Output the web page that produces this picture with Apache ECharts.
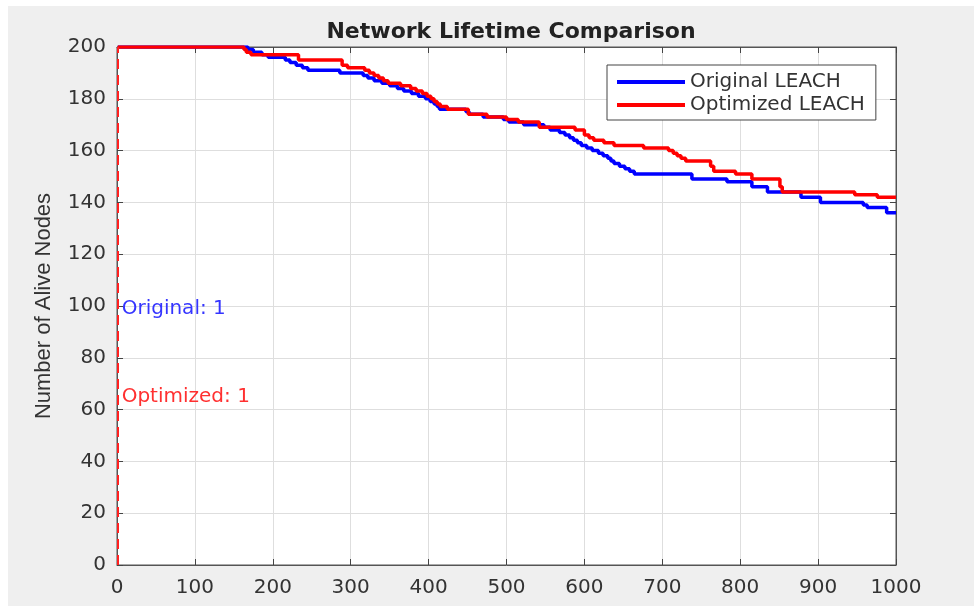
<!DOCTYPE html>
<html>
<head>
<meta charset="utf-8">
<script src="https://cdn.jsdelivr.net/npm/echarts@6/dist/echarts.min.js"></script>
<style>
html,body{margin:0;padding:0;background:#fff;}
#chart{width:974px;height:606px;}
</style>
</head>
<body>
<div id="chart"></div>
<script>
// ---- data ----
var xTicks = [0,100,200,300,400,500,600,700,800,900,1000];
var yTicks = [0,20,40,60,80,100,120,140,160,180,200];

var origRounds = [1,162,168,175,186,194,216,222,230,238,
  245,286,316,322,330,340,350,360,368,378,
  387,396,402,407,411,414,448,452,470,496,
  503,522,548,556,568,575,581,586,591,596,
  603,610,618,624,630,634,638,645,652,658,
  664,738,783,815,835,878,903,958,963,988,
  1000];
var origAlive = [200,200,199,198,197,196,195,194,193,192,
  191,190,189,188,187,186,185,184,183,182,
  181,180,179,178,177,176,175,174,173,172,
  171,170,169,168,167,166,165,164,163,162,
  161,160,159,158,157,156,155,154,153,152,
  151,149,148,146,144,142,140,139,138,136,
  136];

var optRounds = [1,160,163,166,172,233,289,296,318,324,
  330,336,342,348,364,377,384,392,398,403,
  407,411,415,424,451,475,500,515,542,588,
  600,606,612,625,638,676,708,714,719,724,
  730,762,766,794,815,851,854,947,976,1000];
var optAlive = [200,200,199,198,197,195,193,192,191,190,
  189,188,187,186,185,184,183,182,181,180,
  179,178,177,176,174,173,172,171,169,168,
  166,165,164,163,162,161,160,159,158,157,
  156,154,152,151,149,146,144,143,142,142];

var seriesNames = ['Original LEACH', 'Optimized LEACH'];
var firstDeath = [1, 1];            // vertical marker round
var annoTexts = ['Original: 1', 'Optimized: 1'];
var annoAt = [[6, 99], [6, 65]];    // data coords of the text

function zip(xs, ys){ var o=[]; for(var i=0;i<xs.length;i++) o.push([xs[i], ys[i]]); return o; }
function plain(v){ return String(v); }

var chart = echarts.init(document.getElementById('chart'), null, {renderer:'canvas'});
var tickFont = {fontFamily:'DejaVu Sans', fontSize:20, color:'#333', formatter:plain};
function tickStyle(){ return {show:true, inside:true, length:6, lineStyle:{color:'#444', width:1}}; }
function frameLine(){ return {show:true, onZero:false, lineStyle:{color:'#555', width:1}}; }

var option = {
  backgroundColor:'#ffffff',
  animation:false,
  graphic:[{type:'rect', z:-100, silent:true, shape:{x:8,y:6,width:966,height:600}, style:{fill:'#efefef'}}],
  title:{
    text:'Network Lifetime Comparison',
    left:506, top:16, textAlign:'center',
    textStyle:{fontFamily:'DejaVu Sans', fontWeight:'bold', fontSize:22, color:'#222'}
  },
  legend:{
    orient:'vertical', left:607, top:65,
    padding:[7,11,5,10], itemGap:3,
    itemWidth:68, itemHeight:4, icon:'rect',
    backgroundColor:'#fff', borderColor:'#444', borderWidth:1,
    textStyle:{fontFamily:'DejaVu Sans', fontSize:20, color:'#333', lineHeight:20},
    data:seriesNames
  },
  grid:{left:117, top:47, width:779, height:518, show:true, backgroundColor:'#fff',
        borderColor:'#555', borderWidth:1, outerBoundsMode:'none'},
  xAxis:[{
    type:'value', gridIndex:0, position:'bottom', min:0, max:1000, interval:100,
    axisLine:frameLine(),
    axisTick:tickStyle(),
    axisLabel:Object.assign({margin:13}, tickFont),
    splitLine:{show:true, lineStyle:{color:'#dedede', width:1}}
  },{
    type:'value', gridIndex:0, position:'top', min:0, max:1000, interval:100,
    axisLine:frameLine(),
    axisTick:tickStyle(),
    axisLabel:{show:false}, splitLine:{show:false}
  }],
  yAxis:[{
    type:'value', gridIndex:0, position:'left', min:0, max:200, interval:20,
    name:'Number of Alive Nodes', nameLocation:'middle', nameGap:62,
    nameTextStyle:{fontFamily:'Liberation Sans', fontSize:22, color:'#333'},
    axisLine:frameLine(),
    axisTick:tickStyle(),
    axisLabel:Object.assign({margin:11}, tickFont),
    splitLine:{show:true, lineStyle:{color:'#dedede', width:1}}
  },{
    type:'value', gridIndex:0, position:'right', min:0, max:200, interval:20,
    axisLine:frameLine(),
    axisTick:tickStyle(),
    axisLabel:{show:false}, splitLine:{show:false}
  }],
  series:[{
    name:seriesNames[0], type:'line', step:'end', symbol:'none', z:3,
    data:zip(origRounds, origAlive),
    lineStyle:{color:'#0000ff', width:3.5}, itemStyle:{color:'#0000ff'},
    markLine:{silent:true, symbol:['none','none'], label:{show:false},
      lineStyle:{color:'#0000ff', type:[10,6], width:2}, data:[{xAxis:firstDeath[0]}]},
    markPoint:{silent:true, symbol:'circle', symbolSize:0,
      data:[{coord:annoAt[0], value:0}],
      label:{show:true, position:'right', distance:0, formatter:annoTexts[0],
        fontFamily:'DejaVu Sans', fontSize:20, color:'#3535ff'}}
  },{
    name:seriesNames[1], type:'line', step:'end', symbol:'none', z:4,
    data:zip(optRounds, optAlive),
    lineStyle:{color:'#ff0000', width:3.5}, itemStyle:{color:'#ff0000'},
    markLine:{silent:true, symbol:['none','none'], label:{show:false},
      lineStyle:{color:'#ff2020', type:[10,6], width:2}, data:[{xAxis:firstDeath[1]}]},
    markPoint:{silent:true, symbol:'circle', symbolSize:0,
      data:[{coord:annoAt[1], value:0}],
      label:{show:true, position:'right', distance:0, formatter:annoTexts[1],
        fontFamily:'DejaVu Sans', fontSize:20, color:'#ff3030'}}
  },{
    name:'_frame', type:'line', xAxisIndex:1, yAxisIndex:1, data:[], silent:true, symbol:'none'
  }]
};
chart.setOption(option);
</script>
</body>
</html>
